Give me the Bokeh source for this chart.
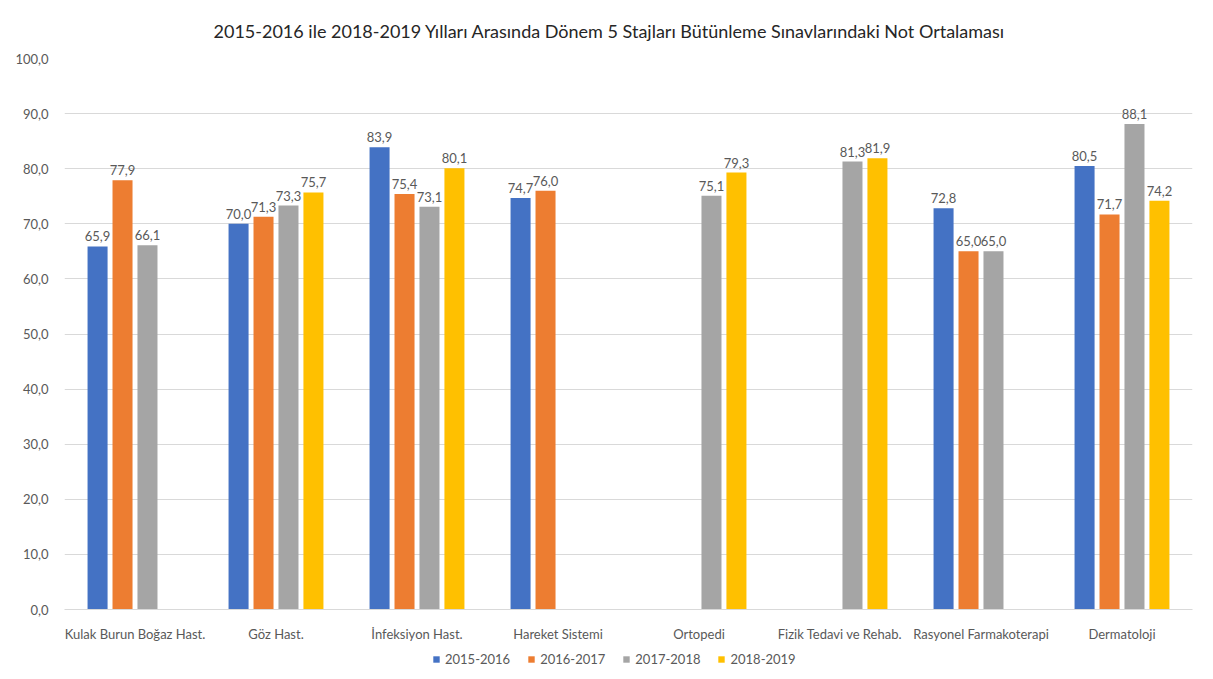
from bokeh.plotting import figure
from bokeh.layouts import column
from bokeh.models import (ColumnDataSource, FactorRange, Range1d, Legend, LegendItem,
                          CustomJSTickFormatter, SingleIntervalTicker)
from bokeh.transform import dodge
from bokeh.core.properties import value
from bokeh.embed import file_html
from bokeh.resources import INLINE

categories = ["Kulak Burun Boğaz Hast.", "Göz Hast.", "İnfeksiyon Hast.", "Hareket Sistemi",
              "Ortopedi", "Fizik Tedavi ve Rehab.", "Rasyonel Farmakoterapi", "Dermatoloji"]
series_names = ["2015-2016", "2016-2017", "2017-2018", "2018-2019"]
s2015_2016 = [65.9, 70.0, 83.9, 74.7, None, None, 72.8, 80.5]
s2016_2017 = [77.9, 71.3, 75.4, 76.0, None, None, 65.0, 71.7]
s2017_2018 = [66.1, 73.3, 73.1, None, 75.1, 81.3, 65.0, 88.1]
s2018_2019 = [None, 75.7, 80.1, None, 79.3, 81.9, None, 74.2]
series_values = [s2015_2016, s2016_2017, s2017_2018, s2018_2019]
colors = ["#4472C4", "#ED7D31", "#A5A5A5", "#FFC000"]

FONT = "Lato"
W = 1204

p = figure(x_range=FactorRange(*categories), y_range=Range1d(0, 100),
           width=W, height=645, output_backend="svg", toolbar_location=None,
           min_border_left=64, min_border_right=W - 1192, min_border_top=58, min_border_bottom=36,
           title="2015-2016 ile 2018-2019 Yılları Arasında Dönem 5 Stajları Bütünleme Sınavlarındaki Not Ortalaması")

p.title.align = "left"
p.title.offset = 149
p.title.text_font = FONT
p.title.text_font_size = "18px"
p.title.text_font_style = "normal"
p.title.text_color = "#262626"
p.title.standoff = 34

p.outline_line_color = None
p.xgrid.grid_line_color = None
p.ygrid.grid_line_color = "#D9D9D9"
p.yaxis.ticker = SingleIntervalTicker(interval=10)
p.yaxis.formatter = CustomJSTickFormatter(code="return tick.toFixed(1).replace('.', ',');")
p.yaxis.axis_line_color = None
p.yaxis.major_tick_line_color = None
p.yaxis.minor_tick_line_color = None
p.yaxis.major_label_text_font = FONT
p.yaxis.major_label_text_font_size = "13px"
p.yaxis.major_label_text_color = "#595959"
p.yaxis.major_label_standoff = 10
p.xaxis.axis_line_color = "#D9D9D9"
p.xaxis.major_tick_line_color = None
p.xaxis.minor_tick_line_color = None
p.xaxis.major_label_text_font = FONT
p.xaxis.major_label_text_font_size = "13px"
p.xaxis.major_label_text_color = "#595959"
p.xaxis.major_label_standoff = 10

step = 0.177
bw = 0.142
offsets = [-1.5 * step, -0.5 * step, 0.5 * step, 1.5 * step]

# separate small figure that only holds the legend
lf = figure(width=W, height=30, output_backend="svg", toolbar_location=None,
            x_range=Range1d(0, 1), y_range=Range1d(0, 1),
            min_border_left=0, min_border_right=0, min_border_top=0, min_border_bottom=0)
lf.axis.visible = False
lf.grid.visible = False
lf.outline_line_color = None

items = []
for name, vals, col, off in zip(series_names, series_values, colors, offsets):
    cats = [c for c, v in zip(categories, vals) if v is not None]
    vv = [v for v in vals if v is not None]
    labels = [f"{v:.1f}".replace(".", ",") for v in vv]
    src = ColumnDataSource(dict(cat=cats, val=vv, lab=labels))
    p.vbar(x=dodge("cat", off, range=p.x_range), top="val", width=bw, source=src,
           fill_color=col, line_color=None)
    p.text(x=dodge("cat", off, range=p.x_range), y="val", text="lab", source=src,
           text_align="center", text_baseline="bottom", y_offset=-5,
           text_font=value(FONT), text_font_size="13px", text_color="#595959")
    # legend proxy: a bar placed outside the visible range of the legend strip
    lr = lf.vbar(x=[-5], top=[-5], bottom=[-6], width=0.1, fill_color=col, line_color=None)
    items.append(LegendItem(label=name, renderers=[lr]))

legend = Legend(items=items, orientation="horizontal", location=(368, 8),
                label_text_font=FONT, label_text_font_size="13px", label_text_color="#595959",
                glyph_width=8, glyph_height=8, spacing=17, padding=2, margin=0,
                border_line_color=None, background_fill_alpha=0, label_standoff=5)
lf.add_layout(legend, "center")

layout = column(p, lf, spacing=0)
open("out.html", "w").write(file_html(layout, INLINE))
